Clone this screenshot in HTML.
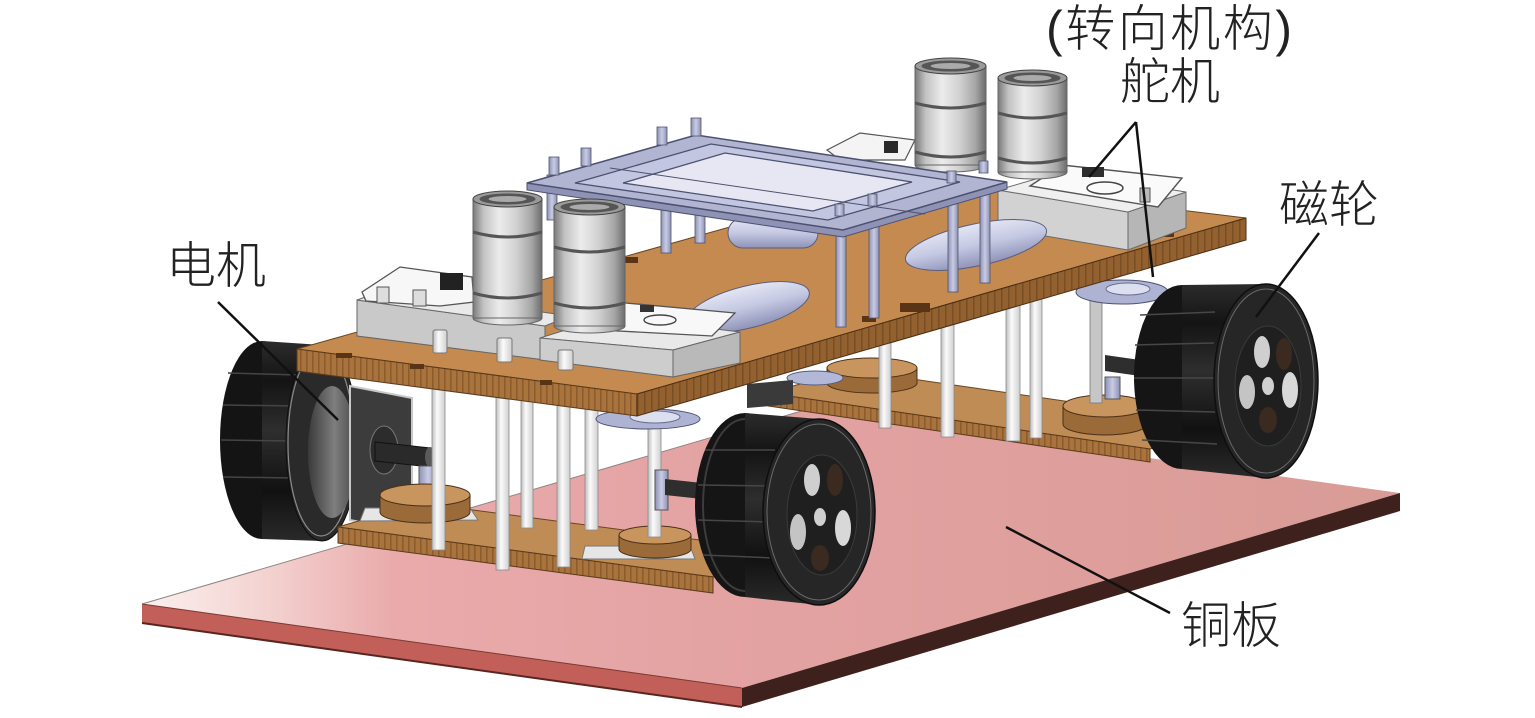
<!DOCTYPE html>
<html><head><meta charset="utf-8"><style>html,body{margin:0;padding:0;background:#fff}svg{display:block}</style></head>
<body>
<svg xmlns="http://www.w3.org/2000/svg" width="1535" height="718" viewBox="0 0 1535 718">
<defs>
<linearGradient id="pl" gradientUnits="userSpaceOnUse" x1="142" y1="0" x2="1400" y2="0">
<stop offset="0" stop-color="#fbf1ef"/><stop offset="0.1" stop-color="#f3d2d0"/><stop offset="0.2" stop-color="#eaaaab"/><stop offset="0.45" stop-color="#e4a3a3"/><stop offset="1" stop-color="#d99b96"/>
</linearGradient>
<linearGradient id="tr" x1="0" y1="0" x2="0" y2="1">
<stop offset="0" stop-color="#2c2c2c"/><stop offset="0.2" stop-color="#141414"/><stop offset="0.45" stop-color="#2e2e2e"/><stop offset="0.75" stop-color="#111"/><stop offset="1" stop-color="#2a2a2a"/>
</linearGradient>
<linearGradient id="cy" x1="0" y1="0" x2="1" y2="0">
<stop offset="0" stop-color="#7a7a7a"/><stop offset="0.15" stop-color="#c2c2c2"/><stop offset="0.38" stop-color="#ececec"/><stop offset="0.62" stop-color="#d2d2d2"/><stop offset="0.85" stop-color="#a6a6a6"/><stop offset="1" stop-color="#6c6c6c"/>
</linearGradient>
<linearGradient id="bat" x1="0" y1="0" x2="0" y2="1">
<stop offset="0" stop-color="#e4e6f4"/><stop offset="0.5" stop-color="#c4c8e2"/><stop offset="1" stop-color="#8e93b8"/>
</linearGradient>
<linearGradient id="hub" x1="0" y1="0" x2="1" y2="0">
<stop offset="0" stop-color="#3a3a3a"/><stop offset="0.55" stop-color="#7e7e7e"/><stop offset="1" stop-color="#4a4a4a"/>
</linearGradient>
<linearGradient id="post" x1="0" y1="0" x2="1" y2="0">
<stop offset="0" stop-color="#bdbdbd"/><stop offset="0.4" stop-color="#fbfbfb"/><stop offset="1" stop-color="#cfcfcf"/>
</linearGradient>
<linearGradient id="lav" x1="0" y1="0" x2="1" y2="0">
<stop offset="0" stop-color="#8d91b3"/><stop offset="0.5" stop-color="#c9cce4"/><stop offset="1" stop-color="#8d91b3"/>
</linearGradient>
<pattern id="wd" width="6" height="6" patternUnits="userSpaceOnUse"><rect width="6" height="6" fill="#a9733e"/><rect width="1.6" height="6" fill="#8d5c2c"/></pattern>
<pattern id="wd2" width="7" height="7" patternUnits="userSpaceOnUse"><rect width="7" height="7" fill="#93602f"/><rect width="1.6" height="7" fill="#7a4e24"/></pattern>
</defs>

<rect width="1535" height="718" fill="#fff"/>

<!-- copper plate -->
<polygon points="142,604 742,688 1400,493 805,410" fill="url(#pl)"/>
<line x1="142" y1="604" x2="805" y2="410" stroke="#8f8585" stroke-width="1"/>
<polygon points="142,604 742,688 742,707 142,623" fill="#c25f58"/>
<line x1="142" y1="623" x2="742" y2="707" stroke="#5a2520" stroke-width="2"/>
<line x1="142" y1="604" x2="742" y2="688" stroke="#7a3a34" stroke-width="1"/>
<polygon points="742,688 1400,493 1400,511 742,707" fill="#3e211c"/>

<!-- right lower strip -->
<polygon points="768,393 1150,449 1230,425 850,370" fill="#c08c55" stroke="#6a4520" stroke-width="1"/>
<polygon points="768,393 1150,449 1150,462 768,406" fill="url(#wd)" stroke="#5a3a1a" stroke-width="1"/>
<path d="M827,368 L827,383 A45,10 0 0,0 917,383 L917,368 Z" fill="#9a6a38" stroke="#4a3018"/>
<ellipse cx="872" cy="368" rx="45" ry="10" fill="#c9955e" stroke="#4a3018"/>
<path d="M1063,406 L1063,424 A42,11 0 0,0 1147,424 L1147,406 Z" fill="#9a6a38" stroke="#4a3018"/>
<ellipse cx="1105" cy="406" rx="42" ry="11" fill="#c9955e" stroke="#4a3018"/>

<!-- right posts -->
<rect x="879" y="330" width="12" height="98" fill="url(#post)" stroke="#8a8a8a" stroke-width="0.8"/>
<rect x="941" y="318" width="13" height="119" fill="url(#post)" stroke="#8a8a8a" stroke-width="0.8"/>
<rect x="1006" y="300" width="14" height="141" fill="url(#post)" stroke="#8a8a8a" stroke-width="0.8"/>
<rect x="1030" y="293" width="12" height="145" fill="url(#post)" stroke="#8a8a8a" stroke-width="0.8"/>
<rect x="1090" y="300" width="12" height="103" fill="#c6c6c6" stroke="#777" stroke-width="0.8"/>
<ellipse cx="1122" cy="292" rx="46" ry="12" fill="#aeb3d4" stroke="#4e5270"/>
<ellipse cx="1128" cy="289" rx="22" ry="6" fill="#dcdff0" stroke="#6a6e8c"/>
<rect x="1105" y="377" width="15" height="22" fill="url(#lav)" stroke="#555"/>
<polygon points="1105,355 1140,360 1140,376 1105,371" fill="#2e2e2e"/>

<!-- right wheel -->
<ellipse cx="1182" cy="377" rx="48" ry="92" fill="#151515"/>
<polygon points="1182,285 1266,284 1266,478 1182,469" fill="url(#tr)"/>
<g stroke="#474747" stroke-width="1.5">
<line x1="1140" y1="315" x2="1215" y2="312"/><line x1="1135" y1="345" x2="1214" y2="343"/><line x1="1134" y1="378" x2="1214" y2="378"/><line x1="1136" y1="410" x2="1215" y2="412"/><line x1="1142" y1="440" x2="1217" y2="444"/>
</g>
<ellipse cx="1266" cy="381" rx="52" ry="97" fill="#262626" stroke="#0e0e0e" stroke-width="1.5"/>
<ellipse cx="1266" cy="381" rx="48" ry="92" fill="none" stroke="#6a6a6a" stroke-width="1"/>
<ellipse cx="1268" cy="386" rx="33" ry="60" fill="#1f1f1f" stroke="#3a3a3a"/>
<g>
<ellipse cx="1262" cy="352" rx="8" ry="16" fill="#cfcfcf"/><ellipse cx="1284" cy="354" rx="8" ry="16" fill="#3a2a20"/><ellipse cx="1290" cy="390" rx="8" ry="18" fill="#d8d8d8"/><ellipse cx="1268" cy="420" rx="9" ry="13" fill="#3a2a20"/><ellipse cx="1247" cy="392" rx="8" ry="17" fill="#c4c4c4"/>
</g>
<ellipse cx="1268" cy="386" rx="6" ry="9" fill="#d0d0d0"/>

<!-- middle horn / dark piece -->
<ellipse cx="815" cy="378" rx="28" ry="7" fill="#b4b8d8" stroke="#555a7a"/>
<polygon points="747,384 793,380 793,404 747,408" fill="#3a3a3a"/>

<!-- left wheel -->
<ellipse cx="262" cy="440" rx="42" ry="99" fill="#141414"/>
<polygon points="262,341 322,345 322,541 262,539" fill="url(#tr)"/>
<g stroke="#454545" stroke-width="1.5">
<line x1="228" y1="373" x2="300" y2="375"/><line x1="223" y1="405" x2="296" y2="406"/><line x1="221" y1="440" x2="294" y2="441"/><line x1="223" y1="477" x2="296" y2="478"/>
</g>
<ellipse cx="322" cy="443" rx="36" ry="98" fill="#2a2a2a" stroke="#0e0e0e"/>
<ellipse cx="321" cy="443" rx="33" ry="93" fill="none" stroke="#8a8a8a" stroke-width="1.2"/>
<ellipse cx="332" cy="452" rx="24" ry="66" fill="url(#hub)"/>
<polygon points="350,386 412,398 412,532 350,520" fill="#3c3c3c" stroke="#c8c8c8" stroke-width="2"/>
<ellipse cx="384" cy="450" rx="14" ry="24" fill="#2c2c2c" stroke="#777"/>
<polygon points="375,442 430,448 430,467 375,461" fill="#2a2a2a" stroke="#111"/>
<ellipse cx="430" cy="457" rx="5" ry="10" fill="#5a5a5a"/>
<rect x="419" y="466" width="18" height="27" fill="url(#lav)" stroke="#555"/>

<!-- left lower strip -->
<polygon points="338,527 713,577 790,552 420,503" fill="#c08c55" stroke="#6a4520" stroke-width="1"/>
<polygon points="338,527 713,577 713,593 338,543" fill="url(#wd)" stroke="#5a3a1a" stroke-width="1"/>
<polygon points="365,508 470,508 478,520 360,521" fill="#e6e6e6" stroke="#777"/>
<path d="M380,495 L380,512 A45,11 0 0,0 470,512 L470,495 Z" fill="#9a6a38" stroke="#4a3018"/>
<ellipse cx="425" cy="495" rx="45" ry="11" fill="#c9955e" stroke="#4a3018"/>
<polygon points="585,546 690,546 695,559 582,559" fill="#e6e6e6" stroke="#777"/>
<path d="M619,535 L619,549 A36,9 0 0,0 691,549 L691,535 Z" fill="#9a6a38" stroke="#4a3018"/>
<ellipse cx="655" cy="535" rx="36" ry="9" fill="#c9955e" stroke="#4a3018"/>

<!-- left posts -->
<rect x="432" y="385" width="13" height="165" fill="url(#post)" stroke="#8a8a8a" stroke-width="0.8"/>
<rect x="496" y="392" width="13" height="178" fill="url(#post)" stroke="#8a8a8a" stroke-width="0.8"/>
<rect x="521" y="395" width="12" height="133" fill="url(#post)" stroke="#8a8a8a" stroke-width="0.8"/>
<rect x="557" y="398" width="13" height="169" fill="url(#post)" stroke="#8a8a8a" stroke-width="0.8"/>
<rect x="585" y="402" width="13" height="128" fill="url(#post)" stroke="#8a8a8a" stroke-width="0.8"/>
<rect x="648" y="412" width="13" height="125" fill="url(#post)" stroke="#8a8a8a" stroke-width="0.8"/>

<ellipse cx="648" cy="419" rx="52" ry="10" fill="#aeb3d4" stroke="#4e5270"/>
<ellipse cx="655" cy="417" rx="25" ry="6" fill="#dcdff0" stroke="#6a6e8c"/>
<rect x="655" y="470" width="13" height="40" fill="url(#lav)" stroke="#555"/>
<polygon points="665,479 702,483 702,499 665,495" fill="#2e2e2e"/>

<!-- front wheel -->
<ellipse cx="745" cy="505" rx="50" ry="92" fill="#151515"/>
<ellipse cx="745" cy="505" rx="42" ry="86" fill="none" stroke="#3c3c3c" stroke-width="2"/>
<polygon points="745,413 819,419 819,605 745,597" fill="url(#tr)"/>
<g stroke="#474747" stroke-width="1.5">
<line x1="705" y1="450" x2="775" y2="450"/><line x1="698" y1="485" x2="772" y2="486"/><line x1="698" y1="520" x2="772" y2="522"/><line x1="703" y1="555" x2="775" y2="558"/>
</g>
<ellipse cx="819" cy="512" rx="56" ry="93" fill="#262626" stroke="#0e0e0e" stroke-width="1.5"/>
<ellipse cx="819" cy="512" rx="52" ry="88" fill="none" stroke="#6a6a6a" stroke-width="1"/>
<ellipse cx="822" cy="515" rx="35" ry="60" fill="#1f1f1f" stroke="#3a3a3a"/>
<g>
<ellipse cx="812" cy="480" rx="8" ry="16" fill="#cfcfcf"/><ellipse cx="835" cy="480" rx="8" ry="16" fill="#3a2a20"/><ellipse cx="843" cy="528" rx="8" ry="18" fill="#d8d8d8"/><ellipse cx="820" cy="558" rx="9" ry="13" fill="#3a2a20"/><ellipse cx="798" cy="532" rx="8" ry="18" fill="#c4c4c4"/>
</g>
<ellipse cx="820" cy="517" rx="6" ry="9" fill="#d0d0d0"/>

<!-- upper board -->
<polygon points="297,349 637,394 1246,218 907,177" fill="#c48a4f" stroke="#6a4520" stroke-width="1"/>
<polygon points="297,349 637,394 637,416 297,371" fill="url(#wd)" stroke="#5a3a1a" stroke-width="1"/>
<polygon points="637,394 1246,218 1246,240 637,416" fill="url(#wd2)" stroke="#4a2e14" stroke-width="1"/>
<g fill="#5a3416">
<rect x="620" y="257" width="18" height="6"/><rect x="900" y="303" width="30" height="9"/><rect x="862" y="316" width="14" height="6"/><rect x="336" y="353" width="16" height="5"/><rect x="410" y="364" width="14" height="5"/><rect x="540" y="380" width="12" height="5"/><rect x="1160" y="232" width="14" height="5"/>
</g>

<!-- small back module -->
<polygon points="827,150 860,133 915,140 905,160 840,160" fill="#f4f4f4" stroke="#555" stroke-width="1.2"/>
<rect x="884" y="141" width="14" height="12" fill="#2a2a2a"/>

<!-- right box -->
<polygon points="998,228 1128,250 1186,228 1186,192 1060,172 998,190" fill="#cfcfcf"/>
<polygon points="998,190 1128,212 1128,250 998,228" fill="#d2d2d2" stroke="#6a6a6a"/>
<polygon points="1128,212 1186,192 1186,228 1128,250" fill="#b6b6b6" stroke="#6a6a6a"/>
<polygon points="998,190 1128,212 1186,192 1060,172" fill="#efefef" stroke="#6a6a6a"/>
<polygon points="1030,186 1062,165 1182,178 1158,207" fill="#fafafa" stroke="#555" stroke-width="1.4"/>
<ellipse cx="1105" cy="188" rx="18" ry="6" fill="none" stroke="#444" stroke-width="1.5"/>
<rect x="1082" y="167" width="22" height="10" fill="#2e2e2e"/>
<rect x="1140" y="188" width="10" height="14" fill="#bbb" stroke="#555"/>

<!-- cylinder C3 -->
<ellipse cx="950.5" cy="165" rx="35.5" ry="7" fill="url(#cy)" stroke="#666"/>
<rect x="915" y="66" width="71" height="99" fill="url(#cy)" stroke="#666" stroke-width="1"/>
<path d="M915,103 Q950.5,113 986,103" stroke="#555" stroke-width="3" fill="none"/>
<path d="M915,152 Q950.5,162 986,152" stroke="#555" stroke-width="3" fill="none"/>
<ellipse cx="950.5" cy="66" rx="35.5" ry="8" fill="#9a9a9a" stroke="#444"/>
<ellipse cx="950.5" cy="66" rx="29" ry="5.5" fill="#555"/>
<ellipse cx="950.5" cy="66" rx="20" ry="3" fill="#aaa"/>
<!-- cylinder C4 -->
<ellipse cx="1032.5" cy="172" rx="34.5" ry="7" fill="url(#cy)" stroke="#666"/>
<rect x="998" y="78" width="69" height="94" fill="url(#cy)" stroke="#666" stroke-width="1"/>
<path d="M998,113 Q1032.5,123 1067,113" stroke="#555" stroke-width="3" fill="none"/>
<path d="M998,158 Q1032.5,168 1067,158" stroke="#555" stroke-width="3" fill="none"/>
<ellipse cx="1032.5" cy="78" rx="34.5" ry="8" fill="#9a9a9a" stroke="#444"/>
<ellipse cx="1032.5" cy="78" rx="28" ry="5.5" fill="#555"/>
<ellipse cx="1032.5" cy="78" rx="19" ry="3" fill="#aaa"/>

<!-- batteries under frame -->
<rect x="728" y="218" width="90" height="30" rx="15" fill="url(#bat)" stroke="#5a5e80"/>
<ellipse cx="976" cy="245" rx="72" ry="21" transform="rotate(-12 976 245)" fill="url(#bat)" stroke="#5a5e80"/>

<!-- frame legs -->
<g fill="url(#lav)" stroke="#50546f" stroke-width="0.8">
<rect x="661" y="190" width="10" height="63"/><rect x="695" y="185" width="10" height="58"/>
<rect x="836" y="225" width="10" height="102"/><rect x="869" y="222" width="10" height="96"/>
<rect x="948" y="176" width="10" height="116"/><rect x="980" y="180" width="10" height="103"/>
<rect x="547" y="175" width="10" height="45"/>
</g>
<!-- frame -->
<polygon points="527,183 843,230 1007,182 1007,189 843,237 527,190" fill="#8e92b4" stroke="#4d5170" stroke-width="1"/>
<polygon points="527,183 696,135 1007,182 843,230" fill="#b2b5d2" stroke="#4d5170" stroke-width="1.5"/>
<polygon points="575,183 711,144 960,182 828,220" fill="#c3c6e0" stroke="#4d5170" stroke-width="1.3"/>
<polygon points="623,183 725,153 912,182 813,211" fill="#e6e7f2" stroke="#4d5170" stroke-width="1.3"/>
<line x1="610" y1="168" x2="925" y2="214" stroke="#4d5170" stroke-width="1"/>
<g fill="url(#lav)" stroke="#50546f" stroke-width="0.8">
<rect x="549" y="157" width="10" height="18"/><rect x="581" y="148" width="10" height="18"/>
<rect x="657" y="127" width="10" height="18"/><rect x="691" y="118" width="10" height="18"/>
<rect x="835" y="204" width="9" height="12"/><rect x="868" y="194" width="9" height="12"/>
<rect x="947" y="171" width="9" height="12"/><rect x="979" y="161" width="9" height="12"/>
</g>

<!-- battery B3 -->
<ellipse cx="748" cy="307" rx="63" ry="21" transform="rotate(-14 748 307)" fill="url(#bat)" stroke="#5a5e80"/>

<!-- left box1 -->
<polygon points="357,300 545,326 545,360 357,336" fill="#c9c9c9" stroke="#666"/>
<polygon points="357,300 545,326 570,316 385,290" fill="#e9e9e9" stroke="#666"/>
<polygon points="362,292 400,267 472,277 474,302 440,306 366,301" fill="#f7f7f7" stroke="#555" stroke-width="1.3"/>
<rect x="440" y="273" width="23" height="17" fill="#222"/>
<rect x="377" y="287" width="12" height="16" fill="#ddd" stroke="#555"/>
<rect x="413" y="290" width="13" height="16" fill="#ddd" stroke="#555"/>
<!-- left box2 -->
<polygon points="540,338 673,350 740,332 610,316" fill="#e9e9e9" stroke="#666"/>
<polygon points="540,338 673,350 673,377 540,360" fill="#cdcdcd" stroke="#666"/>
<polygon points="673,350 740,332 740,363 673,377" fill="#b9b9b9" stroke="#666"/>
<polygon points="588,320 615,302 735,313 712,336 600,330" fill="#f8f8f8" stroke="#555" stroke-width="1.3"/>
<ellipse cx="660" cy="320" rx="16" ry="5" fill="none" stroke="#444" stroke-width="1.4"/>
<rect x="640" y="305" width="14" height="7" fill="#333"/>
<rect x="605" y="318" width="12" height="8" fill="#555"/>

<!-- cylinder C1 -->
<ellipse cx="507.5" cy="318" rx="34.5" ry="7" fill="url(#cy)" stroke="#666"/>
<rect x="473" y="199" width="69" height="119" fill="url(#cy)" stroke="#666" stroke-width="1"/>
<path d="M473,232 Q507.5,242 542,232" stroke="#555" stroke-width="3" fill="none"/>
<path d="M473,293 Q507.5,303 542,293" stroke="#555" stroke-width="3" fill="none"/>
<ellipse cx="507.5" cy="199" rx="34.5" ry="8" fill="#9a9a9a" stroke="#444"/>
<ellipse cx="507.5" cy="199" rx="28" ry="5.5" fill="#555"/>
<ellipse cx="507.5" cy="199" rx="19" ry="3" fill="#aaa"/>
<!-- cylinder C2 -->
<ellipse cx="589.5" cy="326" rx="35.5" ry="7" fill="url(#cy)" stroke="#666"/>
<rect x="554" y="207" width="71" height="119" fill="url(#cy)" stroke="#666" stroke-width="1"/>
<path d="M554,247 Q589.5,257 625,247" stroke="#555" stroke-width="3" fill="none"/>
<path d="M554,303 Q589.5,313 625,303" stroke="#555" stroke-width="3" fill="none"/>
<ellipse cx="589.5" cy="207" rx="35.5" ry="8" fill="#9a9a9a" stroke="#444"/>
<ellipse cx="589.5" cy="207" rx="29" ry="5.5" fill="#555"/>
<ellipse cx="589.5" cy="207" rx="20" ry="3" fill="#aaa"/>

<!-- standoffs on board -->
<rect x="433" y="330" width="14" height="23" rx="2" fill="url(#post)" stroke="#777"/>
<rect x="497" y="338" width="15" height="24" rx="2" fill="url(#post)" stroke="#777"/>
<rect x="558" y="350" width="15" height="20" rx="2" fill="url(#post)" stroke="#777"/>

<!-- leader lines -->
<g stroke="#111" stroke-width="2.5" fill="none">
<line x1="218" y1="302" x2="338" y2="420"/>
<line x1="1136" y1="122" x2="1089" y2="177"/>
<line x1="1136" y1="122" x2="1153" y2="277"/>
<line x1="1319" y1="233" x2="1256" y2="317"/>
<line x1="1006" y1="527" x2="1170" y2="613"/>
</g>

<!-- labels -->
<g font-family="'Liberation Sans','Noto Sans CJK SC',sans-serif" font-size="50" font-weight="300" fill="#222">
<text x="1046" y="46" textLength="246" lengthAdjust="spacing">(转向机构)</text>
<text x="1120" y="99">舵机</text>
<text x="1279" y="222">磁轮</text>
<text x="166" y="283">电机</text>
<text x="1181" y="643">铜板</text>
</g>
</svg>
</body></html>
